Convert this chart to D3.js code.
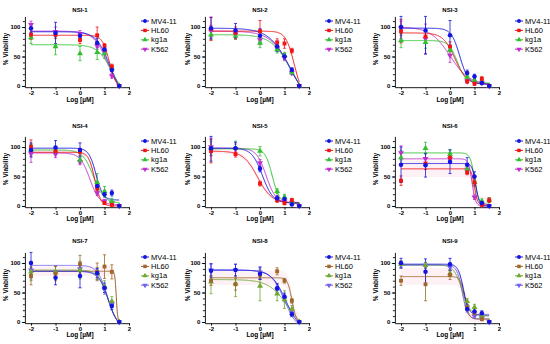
<!DOCTYPE html>
<meta charset="utf-8">
<head>
<script src="https://d3js.org/d3.v7.min.js"></script>
<style>
  body { margin: 0; background: #fff; }
  svg { font-family: "Liberation Sans", Arial, sans-serif; }
</style>
</head>
<body>
<div id="my_dataviz"></div>
<script>

// doses as log10(µM)
var doses = [-2, -1, 0, 0.7, 1, 1.3, 1.6];
var cells = ["MV4-11", "HL60", "kg1a", "K562"];
var titles = ["NSI-1", "NSI-2", "NSI-3", "NSI-4", "NSI-5", "NSI-6", "NSI-7", "NSI-8", "NSI-9"];
var xTicks = [-2, -1, 0, 1, 2];
var yTicks = [0, 50, 100];

// % viability, one row per cell line (MV4-11, HL60, kg1a, K562)
var viability = [
  [[98, 90, 85, 73, 62, 27, 0], [87, 87, 78, 86, 68, 33, 0], [82, 67, 55, 57, 55, 30, 0], [104, 92, 88, 68, 58, 17, 0]],
  [[98, 94, 85, 67, 50, 27, 0], [97, 90, 93, 74, 72, 60, 0], [87, 85, 73, 62, 52, 23, 0], [93, 88, 78, 64, 48, 22, 0]],
  [[100, 94, 86, 22, 16, 5, 0], [93, 84, 67, 8, 4, 12, 0], [77, 74, 61, 15, 10, 8, 0], [98, 80, 52, 8, 5, 5, 0]],
  [[95, 99, 95, 34, 20, 22, 0], [100, 93, 92, 30, 5, 2, 0], [95, 93, 78, 40, 25, 8, 0], [89, 88, 75, 22, 8, 5, 0]],
  [[98, 98, 63, 13, 12, 3, 0], [93, 88, 38, 10, 5, 10, 0], [98, 98, 93, 25, 15, 8, 0], [100, 97, 73, 12, 8, 5, 0]],
  [[70, 69, 75, 70, 50, 5, 0], [43, 72, 82, 57, 40, 2, 10], [82, 98, 88, 63, 40, 8, 10], [90, 80, 80, 62, 15, 2, 0]],
  [[100, 75, 78, 83, 58, 27, 0], [78, 82, 98, 85, 94, 85, 0], [85, 85, 88, 82, 60, 35, 0], [88, 85, 90, 80, 55, 30, 0]],
  [[87, 88, 82, 57, 43, 13, 0], [70, 64, 80, 86, 70, 36, 0], [68, 65, 61, 48, 38, 22, 0], [88, 88, 84, 55, 40, 15, 0]],
  [[100, 85, 98, 22, 18, 15, 0], [70, 64, 80, 25, 15, 5, 0], [98, 96, 82, 35, 25, 10, 0], [97, 96, 93, 25, 10, 8, 0]]
];

// SD error bars, same layout
var errors = [
  [[8, 18, 5, 8, 5, 3, 0], [8, 6, 6, 14, 4, 4, 0], [10, 14, 12, 12, 8, 4, 0], [6, 8, 6, 6, 5, 4, 0]],
  [[18, 12, 12, 8, 5, 4, 0], [20, 10, 18, 6, 8, 4, 0], [8, 6, 8, 6, 5, 3, 0], [10, 8, 8, 6, 5, 3, 0]],
  [[20, 40, 25, 5, 4, 2, 0], [20, 10, 8, 3, 3, 4, 0], [12, 10, 8, 4, 3, 3, 0], [12, 25, 12, 3, 3, 2, 0]],
  [[12, 12, 12, 5, 5, 5, 0], [12, 6, 6, 5, 2, 2, 0], [10, 6, 6, 15, 8, 5, 0], [15, 6, 5, 4, 3, 3, 0]],
  [[22, 10, 5, 5, 5, 3, 0], [20, 5, 4, 4, 3, 3, 0], [12, 12, 8, 4, 5, 3, 0], [15, 8, 6, 4, 3, 2, 0]],
  [[30, 20, 20, 12, 8, 4, 0], [8, 10, 8, 4, 6, 2, 4], [12, 10, 8, 6, 6, 4, 4], [12, 10, 8, 5, 4, 2, 0]],
  [[22, 12, 20, 8, 8, 6, 0], [15, 12, 15, 15, 20, 12, 0], [15, 10, 15, 10, 10, 8, 0], [15, 10, 12, 8, 8, 6, 0]],
  [[12, 10, 10, 8, 6, 4, 0], [8, 10, 8, 6, 4, 4, 0], [20, 22, 25, 12, 15, 6, 0], [10, 10, 10, 8, 6, 4, 0]],
  [[8, 22, 10, 5, 5, 4, 0], [8, 28, 8, 4, 3, 3, 0], [6, 5, 5, 5, 5, 4, 0], [6, 5, 6, 5, 4, 3, 0]]
];

// 4PL fit parameters [top, bottom, logIC50, hill]
var fits = [
  [[92, -20, 1.2, 1.6], [86, -5, 1.2, 3], [70, -20, 1.3, 1.5], [93, -20, 1.15, 1.5]],
  [[98, -40, 1.25, 1], [93, -20, 1.4, 2.5], [87, -30, 1.25, 1.1], [93, -35, 1.25, 1.05]],
  [[98, 3, 0.4, 2.5], [90, 3, 0.2, 1.8], [77, 5, 0.3, 2.5], [100, 2, 0, 1.1]],
  [[98, 10, 0.65, 3], [91, 0, 0.6, 3.5], [95, 5, 0.55, 2], [90, 2, 0.4, 2.2]],
  [[98, 5, 0.1, 2], [93, 5, -0.1, 1.5], [97, 5, 0.5, 3], [98, 5, 0.25, 2.2]],
  [[72, 0, 1.05, 6], [63, 2, 1.0, 7], [90, 3, 1.0, 5], [80, 0, 0.9, 6]],
  [[86, -10, 1.15, 2.2], [86, 0, 1.48, 15], [88, -10, 1.15, 2.2], [96, -10, 1.12, 2.2]],
  [[88, -15, 1.05, 1.5], [75, 0, 1.3, 5], [72, -20, 1.15, 1.1], [88, -15, 1.0, 1.6]],
  [[98, 12, 0.55, 4], [77, 5, 0.6, 5], [97, 10, 0.5, 2.5], [96, 5, 0.5, 4]]
];

// half width of the HL60 confidence band
var ciWidth = [0, 0, 0, 4, 4, 14, 8, 12, 14];

var colorsTop = ["#1414e0", "#f01414", "#30c030", "#c030d0"];
var colorsBottom = ["#1414e0", "#a0662a", "#70a830", "#7060f0"];
var symbols = [d3.symbolCircle, d3.symbolSquare, d3.symbolTriangle, d3.symbolTriangle];

// layout
var colX = [31, 211, 401];      // pixel of x = -2
var rowY0 = [86, 206, 322];     // pixel of y = 0
var legX = [145, 329, 519];
var titleY = [12, 128, 243];
var xlabY = [101.5, 220.5, 336.5];
var ylabX = [7.5, 189.5, 377.5];

var svg = d3.select("#my_dataviz")
  .append("svg")
  .attr("width", 550)
  .attr("height", 344);

function fourPL(p, x) {
  return p[1] + (p[0] - p[1]) / (1 + Math.pow(10, (x - p[2]) * p[3]));
}

var curveX = d3.range(-2, 1.6001, 0.01);

titles.forEach(function(title, i) {
  var col = i % 3, row = Math.floor(i / 3);
  var cx = colX[col], y0 = rowY0[row];
  var colors = row == 2 ? colorsBottom : colorsTop;

  var x = d3.scaleLinear().domain([-2.25, 2]).range([cx - 6.1, cx + 98]);
  var y = d3.scaleLinear().domain([-2, 118]).range([y0 + 1.18, y0 - 69.6]);

  var g = svg.append("g");

  // confidence band of HL60 fit
  if (ciWidth[i] > 0) {
    var area = d3.area()
      .x(function(d) { return x(d); })
      .y0(function(d) { return y(Math.max(0, fourPL(fits[i][1], d) - ciWidth[i])); })
      .y1(function(d) { return y(Math.max(0, fourPL(fits[i][1], d) + ciWidth[i])); });
    g.append("path")
      .datum(curveX)
      .attr("d", area)
      .attr("fill", "#f7c6da")
      .attr("opacity", 0.25);
  }

  // axes
  g.append("g")
    .attr("transform", "translate(" + x(-2.25) + ",0)")
    .call(d3.axisLeft(y).tickValues(d3.range(0, 111, 10)).tickSize(2).tickFormat("").tickSizeOuter(0))
    .call(function(a) { a.select(".domain").remove(); });
  g.append("g")
    .attr("transform", "translate(" + x(-2.25) + ",0)")
    .call(d3.axisLeft(y).tickValues(yTicks).tickSize(3).tickPadding(1.5).tickSizeOuter(0)
      .tickFormat(function(d) { return String(d); }));
  g.append("g")
    .attr("transform", "translate(0," + y(-2) + ")")
    .call(d3.axisBottom(x).tickValues(xTicks).tickSize(2.5).tickPadding(0.8).tickSizeOuter(0)
      .tickFormat(function(d) { return String(d); }));
  g.selectAll(".tick text")
    .attr("font-size", 6)
    .attr("font-weight", "bold")
    .attr("font-family", "Liberation Sans, Arial, sans-serif");
  g.selectAll(".domain, .tick line").attr("stroke", "#000").attr("stroke-width", 0.9);

  var order = [3, 2, 1, 0];

  // error bars
  order.forEach(function(s) {
    var eg = g.append("g").attr("stroke", colors[s]).attr("stroke-width", 0.8);
    doses.forEach(function(d, k) {
      var v = viability[i][s][k], e = errors[i][s][k];
      if (e <= 0) return;
      var top = Math.min(118, v + e), bot = Math.max(-2, v - e);
      eg.append("line").attr("x1", x(d)).attr("x2", x(d)).attr("y1", y(top)).attr("y2", y(bot));
      eg.append("line").attr("x1", x(d) - 1.5).attr("x2", x(d) + 1.5).attr("y1", y(top)).attr("y2", y(top));
      eg.append("line").attr("x1", x(d) - 1.5).attr("x2", x(d) + 1.5).attr("y1", y(bot)).attr("y2", y(bot));
    });
  });

  // fitted curves
  order.forEach(function(s) {
    var line = d3.line()
      .x(function(d) { return x(d); })
      .y(function(d) { return y(Math.max(0, fourPL(fits[i][s], d))); });
    g.append("path")
      .datum(curveX)
      .attr("d", line)
      .attr("fill", "none")
      .attr("stroke", colors[s])
      .attr("stroke-width", 1);
  });

  // points
  order.forEach(function(s) {
    g.append("g").selectAll("path")
      .data(viability[i][s])
      .enter().append("path")
      .attr("d", d3.symbol().type(symbols[s]).size(s == 0 ? 16 : 15))
      .attr("transform", function(v, k) {
        return "translate(" + x(doses[k]) + "," + y(v) + ")" + (s == 3 ? " rotate(180)" : "");
      })
      .attr("fill", colors[s]);
  });

  // title and axis labels
  g.append("text")
    .attr("x", x(0)).attr("y", titleY[row])
    .attr("text-anchor", "middle")
    .attr("font-size", 6).attr("font-weight", "bold")
    .text(title);
  g.append("text")
    .attr("x", x(0)).attr("y", xlabY[row])
    .attr("text-anchor", "middle")
    .attr("font-size", 6.5).attr("font-weight", "bold")
    .text("Log [µM]");
  g.append("text")
    .attr("transform", "translate(" + ylabX[col] + "," + (y0 - 37) + ") rotate(-90)")
    .attr("text-anchor", "middle")
    .attr("font-size", 6.5).attr("font-weight", "bold")
    .text("% Viability");

  // legend
  var legend = g.append("g")
    .attr("transform", "translate(" + legX[col] + "," + (y(100) - 6) + ")");
  cells.forEach(function(c, s) {
    var ly = s * 9.4;
    legend.append("line")
      .attr("x1", -4).attr("x2", 4).attr("y1", ly).attr("y2", ly)
      .attr("stroke", colors[s]).attr("stroke-width", 1);
    legend.append("path")
      .attr("d", d3.symbol().type(symbols[s]).size(12))
      .attr("transform", "translate(0," + ly + ")" + (s == 3 ? " rotate(180)" : ""))
      .attr("fill", colors[s]);
    legend.append("text")
      .attr("x", 6).attr("y", ly + 2.6)
      .attr("font-size", 7.5)
      .text(c);
  });
});

</script>
</body>
